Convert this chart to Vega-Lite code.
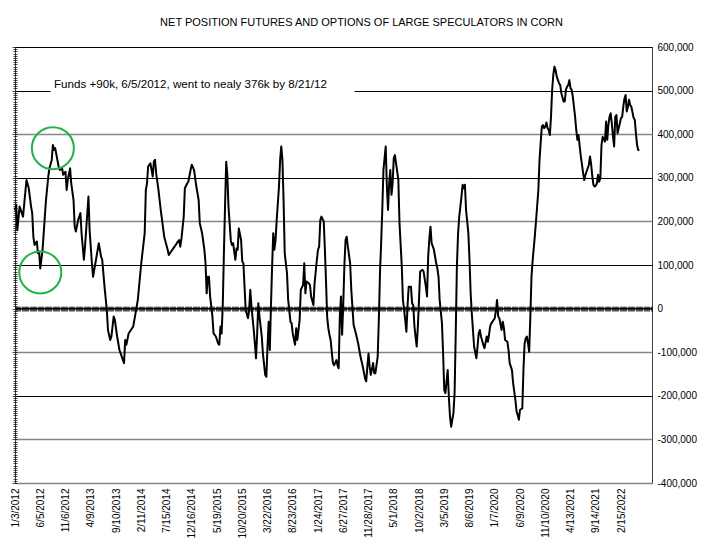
{
  "$schema": "https://vega.github.io/schema/vega-lite/v6.json",
  "width": 637,
  "height": 436,
  "autosize": {"type": "none"},
  "padding": {"left": 15, "top": 47, "right": 49, "bottom": 67},
  "background": "white",
  "config": {
    "view": {"stroke": "#404040", "strokeWidth": 1},
    "font": "Liberation Sans",
    "axis": {"labelFont": "Liberation Sans", "labelColor": "black"}
  },
  "title": {
    "text": "NET POSITION FUTURES AND OPTIONS OF LARGE SPECULATORS IN CORN",
    "font": "Liberation Sans",
    "fontSize": 11,
    "fontWeight": "normal",
    "color": "black",
    "anchor": "middle",
    "frame": "group",
    "dx": 28,
    "offset": 14
  },
  "datasets": {
    "cot": [
      {"date":"2012-01-03","net":225000},{"date":"2012-01-10","net":238000},{"date":"2012-01-17","net":180000},{"date":"2012-01-31","net":234000},
      {"date":"2012-02-21","net":211000},{"date":"2012-03-13","net":295000},{"date":"2012-03-27","net":276000},{"date":"2012-04-10","net":234000},
      {"date":"2012-04-17","net":219000},{"date":"2012-04-24","net":165000},{"date":"2012-05-01","net":146000},{"date":"2012-05-15","net":154000},
      {"date":"2012-05-22","net":127000},{"date":"2012-05-29","net":131000},{"date":"2012-06-05","net":92000},{"date":"2012-06-19","net":135000},
      {"date":"2012-07-03","net":211000},{"date":"2012-07-10","net":249000},{"date":"2012-07-24","net":303000},{"date":"2012-07-31","net":322000},
      {"date":"2012-08-14","net":341000},{"date":"2012-08-21","net":375000},{"date":"2012-08-28","net":364000},{"date":"2012-09-04","net":368000},
      {"date":"2012-09-25","net":326000},{"date":"2012-10-02","net":318000},{"date":"2012-10-16","net":322000},{"date":"2012-10-23","net":307000},
      {"date":"2012-11-06","net":314000},{"date":"2012-11-13","net":272000},{"date":"2012-11-20","net":295000},{"date":"2012-12-04","net":322000},
      {"date":"2012-12-11","net":287000},{"date":"2012-12-25","net":249000},{"date":"2013-01-01","net":188000},{"date":"2013-01-08","net":177000},
      {"date":"2013-01-22","net":203000},{"date":"2013-02-05","net":219000},{"date":"2013-02-12","net":173000},{"date":"2013-02-26","net":112000},
      {"date":"2013-03-05","net":142000},{"date":"2013-03-26","net":257000},{"date":"2013-04-02","net":180000},{"date":"2013-04-16","net":104000},
      {"date":"2013-04-23","net":73000},{"date":"2013-05-14","net":119000},{"date":"2013-05-28","net":150000},{"date":"2013-06-11","net":119000},
      {"date":"2013-06-18","net":112000},{"date":"2013-07-02","net":50000},{"date":"2013-07-16","net":-3000},{"date":"2013-07-23","net":-49000},
      {"date":"2013-08-06","net":-72000},{"date":"2013-08-13","net":-64000},{"date":"2013-08-27","net":-18000},{"date":"2013-09-03","net":-26000},
      {"date":"2013-09-17","net":-64000},{"date":"2013-10-01","net":-95000},{"date":"2013-10-15","net":-110000},{"date":"2013-10-29","net":-125000},
      {"date":"2013-11-05","net":-72000},{"date":"2013-11-12","net":-83000},{"date":"2013-11-26","net":-57000},{"date":"2013-12-10","net":-49000},
      {"date":"2013-12-24","net":-41000},{"date":"2014-01-07","net":-11000},{"date":"2014-01-21","net":20000},{"date":"2014-02-11","net":104000},
      {"date":"2014-03-04","net":173000},{"date":"2014-03-11","net":272000},{"date":"2014-03-18","net":287000},{"date":"2014-03-25","net":326000},
      {"date":"2014-04-08","net":333000},{"date":"2014-04-22","net":303000},{"date":"2014-04-29","net":337000},{"date":"2014-05-06","net":341000},
      {"date":"2014-05-13","net":310000},{"date":"2014-05-27","net":272000},{"date":"2014-06-10","net":226000},{"date":"2014-07-01","net":165000},
      {"date":"2014-07-22","net":135000},{"date":"2014-07-29","net":123000},{"date":"2014-08-12","net":131000},{"date":"2014-09-02","net":142000},
      {"date":"2014-09-16","net":150000},{"date":"2014-09-30","net":157000},{"date":"2014-10-07","net":142000},{"date":"2014-10-14","net":160000},
      {"date":"2014-10-28","net":211000},{"date":"2014-11-04","net":276000},{"date":"2014-11-18","net":287000},{"date":"2014-11-25","net":291000},
      {"date":"2014-12-09","net":318000},{"date":"2014-12-16","net":330000},{"date":"2014-12-30","net":318000},{"date":"2015-01-13","net":280000},
      {"date":"2015-01-27","net":249000},{"date":"2015-02-03","net":196000},{"date":"2015-02-17","net":173000},{"date":"2015-03-03","net":135000},
      {"date":"2015-03-10","net":104000},{"date":"2015-03-17","net":35000},{"date":"2015-03-24","net":73000},{"date":"2015-03-31","net":73000},
      {"date":"2015-04-07","net":28000},{"date":"2015-04-21","net":-18000},{"date":"2015-04-28","net":-57000},{"date":"2015-05-12","net":-64000},
      {"date":"2015-05-26","net":-80000},{"date":"2015-06-02","net":-83000},{"date":"2015-06-09","net":-41000},{"date":"2015-06-16","net":-57000},
      {"date":"2015-06-23","net":5000},{"date":"2015-06-30","net":127000},{"date":"2015-07-07","net":234000},{"date":"2015-07-14","net":337000},
      {"date":"2015-07-21","net":307000},{"date":"2015-07-28","net":234000},{"date":"2015-08-11","net":157000},{"date":"2015-08-18","net":146000},
      {"date":"2015-08-25","net":150000},{"date":"2015-09-08","net":112000},{"date":"2015-09-15","net":138000},{"date":"2015-09-22","net":135000},
      {"date":"2015-09-29","net":184000},{"date":"2015-10-13","net":157000},{"date":"2015-10-20","net":108000},{"date":"2015-10-27","net":104000},
      {"date":"2015-11-03","net":50000},{"date":"2015-11-10","net":-3000},{"date":"2015-11-24","net":-22000},{"date":"2015-12-01","net":-3000},
      {"date":"2015-12-08","net":43000},{"date":"2015-12-15","net":5000},{"date":"2015-12-29","net":-49000},{"date":"2016-01-05","net":-80000},
      {"date":"2016-01-12","net":-114000},{"date":"2016-01-19","net":-57000},{"date":"2016-01-26","net":12000},{"date":"2016-02-02","net":-18000},
      {"date":"2016-02-16","net":-64000},{"date":"2016-02-23","net":-103000},{"date":"2016-03-08","net":-152000},{"date":"2016-03-15","net":-156000},
      {"date":"2016-03-22","net":-87000},{"date":"2016-03-29","net":-30000},{"date":"2016-04-05","net":-95000},{"date":"2016-04-12","net":5000},
      {"date":"2016-04-19","net":96000},{"date":"2016-04-26","net":173000},{"date":"2016-05-03","net":135000},{"date":"2016-05-10","net":157000},
      {"date":"2016-05-17","net":203000},{"date":"2016-05-31","net":280000},{"date":"2016-06-07","net":341000},{"date":"2016-06-14","net":372000},
      {"date":"2016-06-21","net":341000},{"date":"2016-06-28","net":249000},{"date":"2016-07-05","net":127000},{"date":"2016-07-19","net":81000},
      {"date":"2016-07-26","net":20000},{"date":"2016-08-09","net":-30000},{"date":"2016-08-16","net":-34000},{"date":"2016-08-23","net":-57000},
      {"date":"2016-09-06","net":-83000},{"date":"2016-09-13","net":-45000},{"date":"2016-09-20","net":-72000},{"date":"2016-10-04","net":-26000},
      {"date":"2016-10-11","net":43000},{"date":"2016-10-25","net":54000},{"date":"2016-11-01","net":104000},{"date":"2016-11-08","net":35000},
      {"date":"2016-11-15","net":62000},{"date":"2016-11-29","net":58000},{"date":"2016-12-06","net":54000},{"date":"2016-12-13","net":28000},
      {"date":"2016-12-27","net":8000},{"date":"2017-01-03","net":58000},{"date":"2017-01-17","net":112000},{"date":"2017-01-24","net":135000},
      {"date":"2017-01-31","net":142000},{"date":"2017-02-07","net":203000},{"date":"2017-02-14","net":211000},{"date":"2017-02-28","net":200000},
      {"date":"2017-03-07","net":135000},{"date":"2017-03-14","net":60000},{"date":"2017-03-21","net":-20000},{"date":"2017-03-28","net":-45000},
      {"date":"2017-04-04","net":-60000},{"date":"2017-04-11","net":-72000},{"date":"2017-04-18","net":-100000},{"date":"2017-04-25","net":-125000},
      {"date":"2017-05-02","net":-130000},{"date":"2017-05-16","net":-118000},{"date":"2017-05-23","net":-130000},{"date":"2017-05-30","net":-137000},
      {"date":"2017-06-06","net":-20000},{"date":"2017-06-13","net":28000},{"date":"2017-06-20","net":-60000},{"date":"2017-06-27","net":10000},
      {"date":"2017-07-04","net":100000},{"date":"2017-07-11","net":157000},{"date":"2017-07-18","net":165000},{"date":"2017-07-25","net":142000},
      {"date":"2017-08-08","net":104000},{"date":"2017-08-15","net":43000},{"date":"2017-08-29","net":-37000},{"date":"2017-09-12","net":-57000},
      {"date":"2017-09-26","net":-80000},{"date":"2017-10-10","net":-110000},{"date":"2017-10-24","net":-133000},{"date":"2017-11-07","net":-160000},
      {"date":"2017-11-14","net":-167000},{"date":"2017-11-21","net":-133000},{"date":"2017-11-28","net":-103000},{"date":"2017-12-05","net":-133000},
      {"date":"2017-12-12","net":-152000},{"date":"2017-12-26","net":-125000},{"date":"2018-01-02","net":-148000},{"date":"2018-01-09","net":-148000},
      {"date":"2018-01-23","net":-110000},{"date":"2018-01-30","net":-26000},{"date":"2018-02-06","net":81000},{"date":"2018-02-13","net":150000},
      {"date":"2018-02-20","net":226000},{"date":"2018-02-27","net":318000},{"date":"2018-03-13","net":372000},{"date":"2018-03-20","net":280000},
      {"date":"2018-03-27","net":226000},{"date":"2018-04-03","net":287000},{"date":"2018-04-10","net":318000},{"date":"2018-04-17","net":261000},
      {"date":"2018-04-24","net":287000},{"date":"2018-05-01","net":345000},{"date":"2018-05-08","net":352000},{"date":"2018-05-15","net":333000},
      {"date":"2018-05-29","net":295000},{"date":"2018-06-05","net":196000},{"date":"2018-06-19","net":96000},{"date":"2018-06-26","net":20000},
      {"date":"2018-07-10","net":-26000},{"date":"2018-07-17","net":-53000},{"date":"2018-07-24","net":5000},{"date":"2018-07-31","net":50000},
      {"date":"2018-08-14","net":50000},{"date":"2018-08-21","net":12000},{"date":"2018-08-28","net":8000},{"date":"2018-09-04","net":-40000},
      {"date":"2018-09-11","net":-65000},{"date":"2018-09-18","net":-87000},{"date":"2018-09-25","net":-41000},{"date":"2018-10-02","net":20000},
      {"date":"2018-10-09","net":85000},{"date":"2018-10-23","net":89000},{"date":"2018-10-30","net":85000},{"date":"2018-11-13","net":50000},
      {"date":"2018-11-20","net":28000},{"date":"2018-11-27","net":119000},{"date":"2018-12-04","net":160000},{"date":"2018-12-11","net":188000},
      {"date":"2018-12-18","net":150000},{"date":"2019-01-01","net":135000},{"date":"2019-01-08","net":119000},{"date":"2019-01-15","net":104000},
      {"date":"2019-01-22","net":92000},{"date":"2019-01-29","net":73000},{"date":"2019-02-05","net":20000},{"date":"2019-02-19","net":-34000},
      {"date":"2019-02-26","net":-103000},{"date":"2019-03-05","net":-187000},{"date":"2019-03-12","net":-194000},{"date":"2019-03-26","net":-141000},
      {"date":"2019-04-02","net":-202000},{"date":"2019-04-09","net":-248000},{"date":"2019-04-16","net":-271000},{"date":"2019-04-23","net":-255000},
      {"date":"2019-04-30","net":-240000},{"date":"2019-05-07","net":-194000},{"date":"2019-05-14","net":-57000},{"date":"2019-05-21","net":96000},
      {"date":"2019-05-28","net":170000},{"date":"2019-06-04","net":210000},{"date":"2019-06-18","net":257000},{"date":"2019-06-25","net":284000},
      {"date":"2019-07-02","net":276000},{"date":"2019-07-09","net":284000},{"date":"2019-07-16","net":226000},{"date":"2019-07-30","net":173000},
      {"date":"2019-08-06","net":112000},{"date":"2019-08-13","net":35000},{"date":"2019-08-20","net":-11000},{"date":"2019-08-27","net":-49000},
      {"date":"2019-09-03","net":-87000},{"date":"2019-09-17","net":-114000},{"date":"2019-09-24","net":-87000},{"date":"2019-10-01","net":-57000},
      {"date":"2019-10-08","net":-49000},{"date":"2019-10-15","net":-64000},{"date":"2019-10-29","net":-83000},{"date":"2019-11-05","net":-91000},
      {"date":"2019-11-19","net":-64000},{"date":"2019-11-26","net":-76000},{"date":"2019-12-03","net":-60000},{"date":"2019-12-10","net":-40000},
      {"date":"2019-12-17","net":-34000},{"date":"2019-12-31","net":-26000},{"date":"2020-01-07","net":-22000},{"date":"2020-01-14","net":-5000},
      {"date":"2020-01-21","net":20000},{"date":"2020-01-28","net":-18000},{"date":"2020-02-04","net":-22000},{"date":"2020-02-18","net":-49000},
      {"date":"2020-02-25","net":-30000},{"date":"2020-03-03","net":-45000},{"date":"2020-03-10","net":-72000},{"date":"2020-03-24","net":-76000},
      {"date":"2020-03-31","net":-95000},{"date":"2020-04-07","net":-125000},{"date":"2020-04-21","net":-141000},{"date":"2020-04-28","net":-171000},
      {"date":"2020-05-12","net":-210000},{"date":"2020-05-19","net":-236000},{"date":"2020-05-26","net":-244000},{"date":"2020-06-02","net":-255000},
      {"date":"2020-06-09","net":-232000},{"date":"2020-06-23","net":-229000},{"date":"2020-06-30","net":-141000},{"date":"2020-07-07","net":-80000},
      {"date":"2020-07-14","net":-68000},{"date":"2020-07-21","net":-64000},{"date":"2020-07-28","net":-80000},{"date":"2020-08-04","net":-99000},
      {"date":"2020-08-11","net":-18000},{"date":"2020-08-18","net":73000},{"date":"2020-08-25","net":110000},{"date":"2020-09-08","net":169000},
      {"date":"2020-09-15","net":203000},{"date":"2020-09-29","net":272000},{"date":"2020-10-06","net":341000},{"date":"2020-10-13","net":380000},
      {"date":"2020-10-20","net":417000},{"date":"2020-10-27","net":421000},{"date":"2020-11-03","net":414000},{"date":"2020-11-10","net":417000},
      {"date":"2020-11-17","net":427000},{"date":"2020-11-24","net":414000},{"date":"2020-12-01","net":410000},{"date":"2020-12-08","net":398000},
      {"date":"2020-12-15","net":440000},{"date":"2020-12-22","net":502000},{"date":"2020-12-29","net":536000},{"date":"2021-01-05","net":555000},
      {"date":"2021-01-12","net":547000},{"date":"2021-01-19","net":532000},{"date":"2021-02-02","net":517000},{"date":"2021-02-09","net":513000},
      {"date":"2021-02-16","net":494000},{"date":"2021-03-02","net":475000},{"date":"2021-03-09","net":475000},{"date":"2021-03-16","net":502000},
      {"date":"2021-03-23","net":509000},{"date":"2021-03-30","net":513000},{"date":"2021-04-06","net":524000},{"date":"2021-04-13","net":505000},
      {"date":"2021-04-20","net":502000},{"date":"2021-04-27","net":486000},{"date":"2021-05-11","net":440000},{"date":"2021-05-18","net":410000},
      {"date":"2021-05-25","net":387000},{"date":"2021-06-01","net":398000},{"date":"2021-06-08","net":372000},{"date":"2021-06-15","net":349000},
      {"date":"2021-06-22","net":330000},{"date":"2021-06-29","net":310000},{"date":"2021-07-06","net":295000},{"date":"2021-07-13","net":307000},
      {"date":"2021-07-27","net":322000},{"date":"2021-08-03","net":330000},{"date":"2021-08-10","net":349000},{"date":"2021-08-17","net":330000},
      {"date":"2021-08-24","net":303000},{"date":"2021-08-31","net":284000},{"date":"2021-09-07","net":280000},{"date":"2021-09-14","net":282000},
      {"date":"2021-09-21","net":287000},{"date":"2021-09-28","net":307000},{"date":"2021-10-05","net":291000},{"date":"2021-10-12","net":300000},
      {"date":"2021-10-19","net":375000},{"date":"2021-10-26","net":394000},{"date":"2021-11-09","net":383000},{"date":"2021-11-16","net":429000},
      {"date":"2021-11-23","net":387000},{"date":"2021-11-30","net":421000},{"date":"2021-12-07","net":440000},{"date":"2021-12-14","net":448000},
      {"date":"2021-12-21","net":425000},{"date":"2021-12-28","net":395000},{"date":"2022-01-04","net":372000},{"date":"2022-01-11","net":440000},
      {"date":"2022-01-18","net":444000},{"date":"2022-01-25","net":402000},{"date":"2022-02-01","net":414000},{"date":"2022-02-08","net":425000},
      {"date":"2022-02-15","net":437000},{"date":"2022-02-22","net":440000},{"date":"2022-03-01","net":463000},{"date":"2022-03-08","net":482000},
      {"date":"2022-03-15","net":490000},{"date":"2022-03-22","net":452000},{"date":"2022-03-29","net":463000},{"date":"2022-04-05","net":479000},
      {"date":"2022-04-12","net":467000},{"date":"2022-04-19","net":463000},{"date":"2022-04-26","net":450000},{"date":"2022-05-03","net":437000},
      {"date":"2022-05-10","net":433000},{"date":"2022-05-17","net":402000},{"date":"2022-05-24","net":375000},{"date":"2022-05-31","net":364000},
      {"date":"2022-06-07","net":364000}
    ],
    "circles": [
      {"date":"2012-08-21","net":368000},
      {"date":"2012-06-05","net":83000}
    ],
    "notebox": [
      {"start":"2012-08-07","end":"2017-09-05","low":480000,"high":540000}
    ],
    "notetext": [
      {"date":"2012-08-28","net":513000,"label":"Funds +90k, 6/5/2012, went to nealy 376k by 8/21/12"}
    ],
    "zero": [
      {"net":0}
    ]
  },
  "layer": [
    {
      "data": {"name": "cot"},
      "mark": {"type": "line", "color": "black", "strokeWidth": 2, "strokeJoin": "round"},
      "encoding": {
        "x": {
          "field": "date", "type": "temporal",
          "scale": {"type": "utc", "nice": false, "domain": [{"year":2012,"month":1,"date":3,"utc":true},{"year":2022,"month":8,"date":23,"utc":true}]},
          "axis": {
            "orient": "bottom",
            "values": [
              {"year":2012,"month":1,"date":3,"utc":true},{"year":2012,"month":6,"date":5,"utc":true},{"year":2012,"month":11,"date":6,"utc":true},
              {"year":2013,"month":4,"date":9,"utc":true},{"year":2013,"month":9,"date":10,"utc":true},{"year":2014,"month":2,"date":11,"utc":true},
              {"year":2014,"month":7,"date":15,"utc":true},{"year":2014,"month":12,"date":16,"utc":true},{"year":2015,"month":5,"date":19,"utc":true},
              {"year":2015,"month":10,"date":20,"utc":true},{"year":2016,"month":3,"date":22,"utc":true},{"year":2016,"month":8,"date":23,"utc":true},
              {"year":2017,"month":1,"date":24,"utc":true},{"year":2017,"month":6,"date":27,"utc":true},{"year":2017,"month":11,"date":28,"utc":true},
              {"year":2018,"month":5,"date":1,"utc":true},{"year":2018,"month":10,"date":2,"utc":true},{"year":2019,"month":3,"date":5,"utc":true},
              {"year":2019,"month":8,"date":6,"utc":true},{"year":2020,"month":1,"date":7,"utc":true},{"year":2020,"month":6,"date":9,"utc":true},
              {"year":2020,"month":11,"date":10,"utc":true},{"year":2021,"month":4,"date":13,"utc":true},{"year":2021,"month":9,"date":14,"utc":true},
              {"year":2022,"month":2,"date":15,"utc":true}
            ],
            "format": "%-m/%-d/%Y",
            "labelAngle": 270,
            "labelAlign": "right",
            "labelBaseline": "middle",
            "labelFontSize": 10,
            "labelPadding": 5,
            "ticks": false,
            "tickSize": 0,
            "domain": false,
            "grid": false,
            "labelOverlap": false,
            "labelFlush": false,
            "labelBound": false,
            "title": null
          }
        },
        "y": {
          "field": "net", "type": "quantitative",
          "scale": {"domain": [-400000, 600000], "nice": false, "zero": false},
          "axis": {
            "orient": "right",
            "values": [-400000, -300000, -200000, -100000, 0, 100000, 200000, 300000, 400000, 500000, 600000],
            "labelExpr": "replace(format(datum.value, ',d'), '\u2212', '-')",
            "labelFontSize": 10,
            "labelAlign": "left",
            "labelPadding": 5,
            "ticks": false,
            "tickSize": 0,
            "domain": false,
            "grid": true,
            "gridColor": {"condition": {"test": "indexof([100000, 300000, 500000, 600000, -200000], datum.value) >= 0", "value": "black"}, "value": "#868686"},
            "gridWidth": {"condition": {"test": "indexof([100000, 300000, 500000, 600000, -200000], datum.value) >= 0", "value": 1}, "value": 1.5},
            "labelFlush": false,
            "labelOverlap": false,
            "zindex": 0,
            "title": null
          }
        }
      }
    },
    {
      "data": {"name": "notebox"},
      "mark": {"type": "rect", "fill": "white", "stroke": null},
      "encoding": {
        "x": {"field": "start", "type": "temporal", "scale": {"type": "utc", "nice": false, "domain": [{"year":2012,"month":1,"date":3,"utc":true},{"year":2022,"month":8,"date":23,"utc":true}]}, "axis": null},
        "x2": {"field": "end"},
        "y": {"field": "low", "type": "quantitative", "scale": {"domain": [-400000, 600000], "nice": false, "zero": false}, "axis": null},
        "y2": {"field": "high"}
      }
    },
    {
      "data": {"name": "notetext"},
      "mark": {"type": "text", "align": "left", "baseline": "middle", "font": "Liberation Sans", "fontSize": 11.6, "color": "black"},
      "encoding": {
        "x": {"field": "date", "type": "temporal", "scale": {"type": "utc", "nice": false, "domain": [{"year":2012,"month":1,"date":3,"utc":true},{"year":2022,"month":8,"date":23,"utc":true}]}, "axis": null},
        "y": {"field": "net", "type": "quantitative", "scale": {"domain": [-400000, 600000], "nice": false, "zero": false}, "axis": null},
        "text": {"field": "label"}
      }
    },
    {
      "data": {"name": "zero"},
      "mark": {"type": "rule", "color": "black", "strokeWidth": 1.5},
      "encoding": {
        "y": {"field": "net", "type": "quantitative", "scale": {"domain": [-400000, 600000], "nice": false, "zero": false}, "axis": null}
      }
    },
    {
      "data": {"name": "circles"},
      "mark": {"type": "point", "shape": "circle", "filled": false, "stroke": "#22b14c", "strokeWidth": 2, "size": 1764, "opacity": 1},
      "encoding": {
        "x": {
          "field": "date", "type": "temporal",
          "scale": {"type": "utc", "nice": false, "domain": [{"year":2012,"month":1,"date":3,"utc":true},{"year":2022,"month":8,"date":23,"utc":true}]},
          "axis": {
            "orient": "bottom",
            "offset": -176.9,
            "labels": false,
            "domain": false,
            "grid": false,
            "ticks": true,
            "tickSize": 5,
            "tickColor": "black",
            "tickWidth": 0.6,
            "tickCount": {"interval": "week", "step": 1},
            "title": null
          }
        },
        "y": {
          "field": "net", "type": "quantitative",
          "scale": {"domain": [-400000, 600000], "nice": false, "zero": false},
          "axis": {
            "orient": "left",
            "offset": -2,
            "labels": false,
            "domain": false,
            "grid": false,
            "ticks": true,
            "tickCount": 200,
            "tickSize": {"condition": {"test": "datum.value % 100000 === 0", "value": 5}, "value": 4},
            "tickColor": "black",
            "tickWidth": 0.7,
            "title": null
          }
        }
      }
    }
  ],
  "resolve": {"scale": {"x": "shared", "y": "shared"}, "axis": {"x": "independent", "y": "independent"}}
}
